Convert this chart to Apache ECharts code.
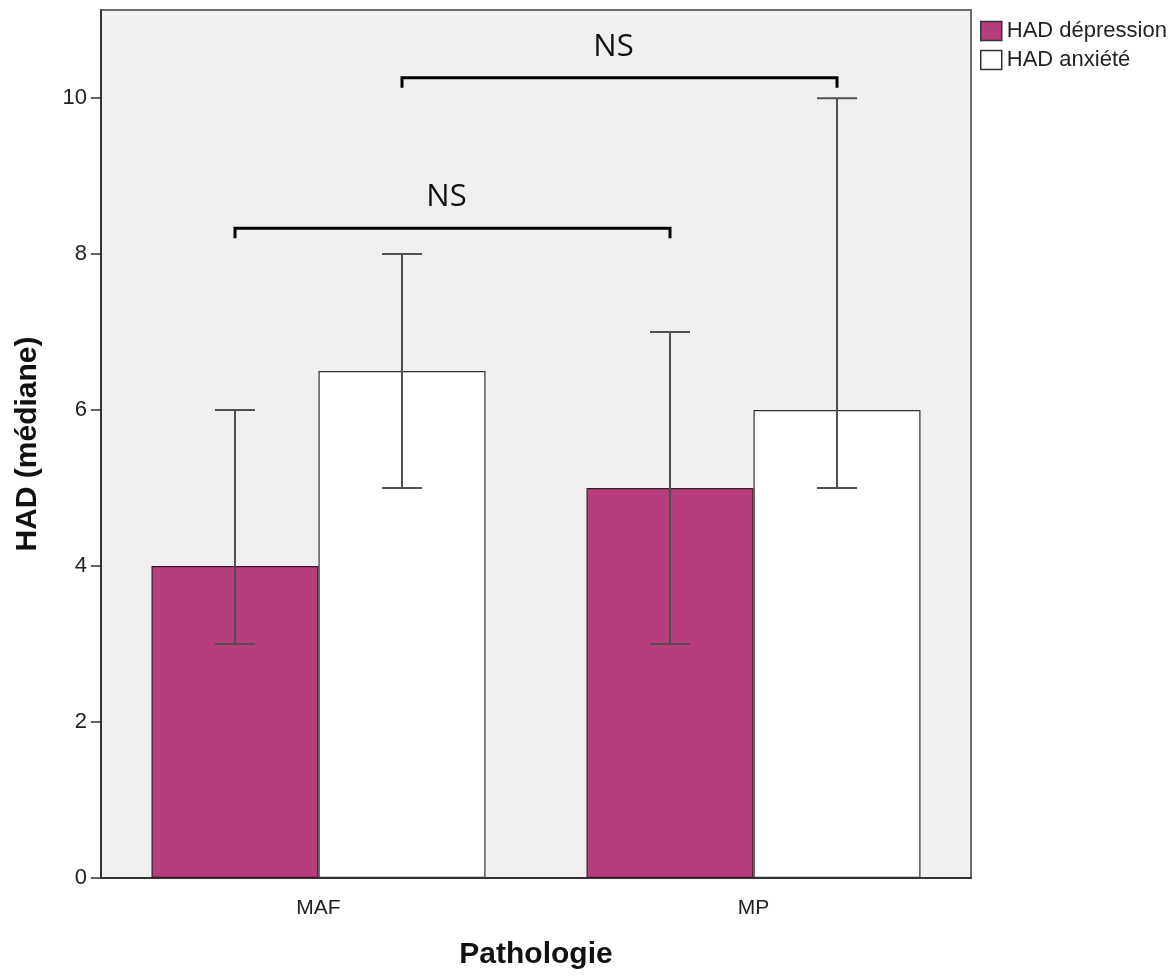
<!DOCTYPE html>
<html>
<head>
<meta charset="utf-8">
<script src="https://cdn.jsdelivr.net/npm/echarts@6/dist/echarts.min.js"></script>
<style>
html,body{margin:0;padding:0;background:#fff;}
#c{width:1176px;height:976px;}
</style>
</head>
<body>
<div id="c"></div>
<script>
// ---- data ----
var categories = ['MAF', 'MP'];
var seriesNames = ['HAD dépression', 'HAD anxiété'];
var depression = [4, 5];
var anxiety = [6.5, 6];
var depLow = [3, 3];
var depHigh = [6, 7];
var anxLow = [5, 5];
var anxHigh = [8, 10];
var yTicks = [0, 2, 4, 6, 8, 10];
// brackets: from category, to category, which series (-1 dep, +1 anx), height, label
var bracketFrom = [0, 0];
var bracketTo = [1, 1];
var bracketSide = [-1, 1];
var bracketY = [8.33, 10.26];
var bracketLabel = ['NS', 'NS'];

// ---- styles ----
var BAR_W = 167;
var DEP_COLOR = '#b83d7b';

var chart = echarts.init(document.getElementById('c'));

function errData(lo, hi) {
  return categories.map(function (c, i) { return [i, lo[i], hi[i]]; });
}
function errRender(sign) {
  return function (params, api) {
    var c = api.value(0);
    var p1 = api.coord([c, api.value(1)]);
    var p2 = api.coord([c, api.value(2)]);
    var x = p1[0] + sign * BAR_W / 2;
    var cap = 20;
    var st = { stroke: '#505050', lineWidth: 2 };
    return {
      type: 'group',
      children: [
        { type: 'line', shape: { x1: x, y1: p1[1], x2: x, y2: p2[1] }, style: st },
        { type: 'line', shape: { x1: x - cap, y1: p1[1], x2: x + cap, y2: p1[1] }, style: st },
        { type: 'line', shape: { x1: x - cap, y1: p2[1], x2: x + cap, y2: p2[1] }, style: st }
      ]
    };
  };
}
var bracketData = bracketFrom.map(function (f, i) {
  return [f, bracketTo[i], bracketY[i], bracketSide[i]];
});
function bracketRender(params, api) {
  var s = api.value(3);
  var a = api.coord([api.value(0), api.value(2)]);
  var b = api.coord([api.value(1), api.value(2)]);
  var x1 = a[0] + s * BAR_W / 2;
  var x2 = b[0] + s * BAR_W / 2;
  var y = a[1];
  var st = { stroke: '#000', lineWidth: 3, lineJoin: 'miter', fill: null };
  return {
    type: 'group',
    children: [
      { type: 'polyline', shape: { points: [[x1, y + 10], [x1, y], [x2, y], [x2, y + 10]] }, style: st },
      { type: 'text', x: (x1 + x2) / 2 - 6, y: y - 31,
        style: { text: bracketLabel[params.dataIndex], font: '31px "Open Sans"', fill: '#111',
                 align: 'center', verticalAlign: 'middle' } }
    ]
  };
}

var option = {
  animation: false,
  backgroundColor: '#ffffff',
  grid: {
    left: 101, right: 205, top: 10, bottom: 98,
    outerBoundsMode: 'none',
    containLabel: false,
    show: true, backgroundColor: '#f0f0f0', borderColor: '#6e6e6e', borderWidth: 2
  },
  legend: {
    orient: 'vertical', left: 975, top: 15,
    itemWidth: 21, itemHeight: 19, itemGap: 7,
    icon: 'rect',
    textStyle: { fontFamily: 'Liberation Sans', fontSize: 22, color: '#222' },
    data: [
      { name: seriesNames[0], itemStyle: { color: DEP_COLOR, borderColor: '#333', borderWidth: 1.5 } },
      { name: seriesNames[1], itemStyle: { color: '#fff', borderColor: '#333', borderWidth: 1.5 } }
    ]
  },
  xAxis: {
    type: 'category',
    data: categories,
    name: 'Pathologie',
    nameLocation: 'middle',
    nameGap: 62,
    nameTextStyle: { fontFamily: 'Liberation Sans', fontWeight: 'bold', fontSize: 30, color: '#111' },
    axisLine: { lineStyle: { color: '#333', width: 2 } },
    axisTick: { alignWithLabel: true, length: 12, lineStyle: { color: '#333', width: 1.5 } },
    axisLabel: { margin: 20, fontFamily: 'Liberation Sans', fontSize: 21, color: '#222' },
    splitLine: { show: false }
  },
  yAxis: {
    type: 'value',
    min: 0, max: 11.13, interval: 2,
    name: 'HAD (médiane)',
    nameLocation: 'middle',
    nameGap: 58,
    nameTextStyle: { fontFamily: 'Liberation Sans', fontWeight: 'bold', fontSize: 30, color: '#111' },
    axisLine: { show: true, lineStyle: { color: '#333', width: 2 } },
    axisTick: { show: true, length: 10, lineStyle: { color: '#333', width: 1.5 } },
    axisLabel: {
      margin: 14, fontFamily: 'Liberation Sans', fontSize: 22, color: '#222',
      showMaxLabel: false,
      formatter: function (v) { return yTicks.indexOf(v) >= 0 ? String(v) : ''; }
    },
    splitLine: { show: false }
  },
  series: [
    {
      name: seriesNames[0], type: 'bar', data: depression,
      barWidth: BAR_W, barGap: '0%',
      itemStyle: { color: DEP_COLOR, borderColor: '#3a1a2a', borderWidth: 1.2 }
    },
    {
      name: seriesNames[1], type: 'bar', data: anxiety,
      barWidth: BAR_W, barGap: '0%',
      itemStyle: { color: '#ffffff', borderColor: '#333', borderWidth: 1.2 }
    },
    {
      type: 'custom', renderItem: errRender(-1), data: errData(depLow, depHigh),
      encode: { x: 0, y: [1, 2] }, z: 5, silent: true
    },
    {
      type: 'custom', renderItem: errRender(1), data: errData(anxLow, anxHigh),
      encode: { x: 0, y: [1, 2] }, z: 5, silent: true
    },
    {
      type: 'custom', renderItem: bracketRender, data: bracketData,
      encode: { x: [0, 1], y: 2 }, z: 6, silent: true, clip: false
    }
  ]
};
chart.setOption(option);
</script>
</body>
</html>
